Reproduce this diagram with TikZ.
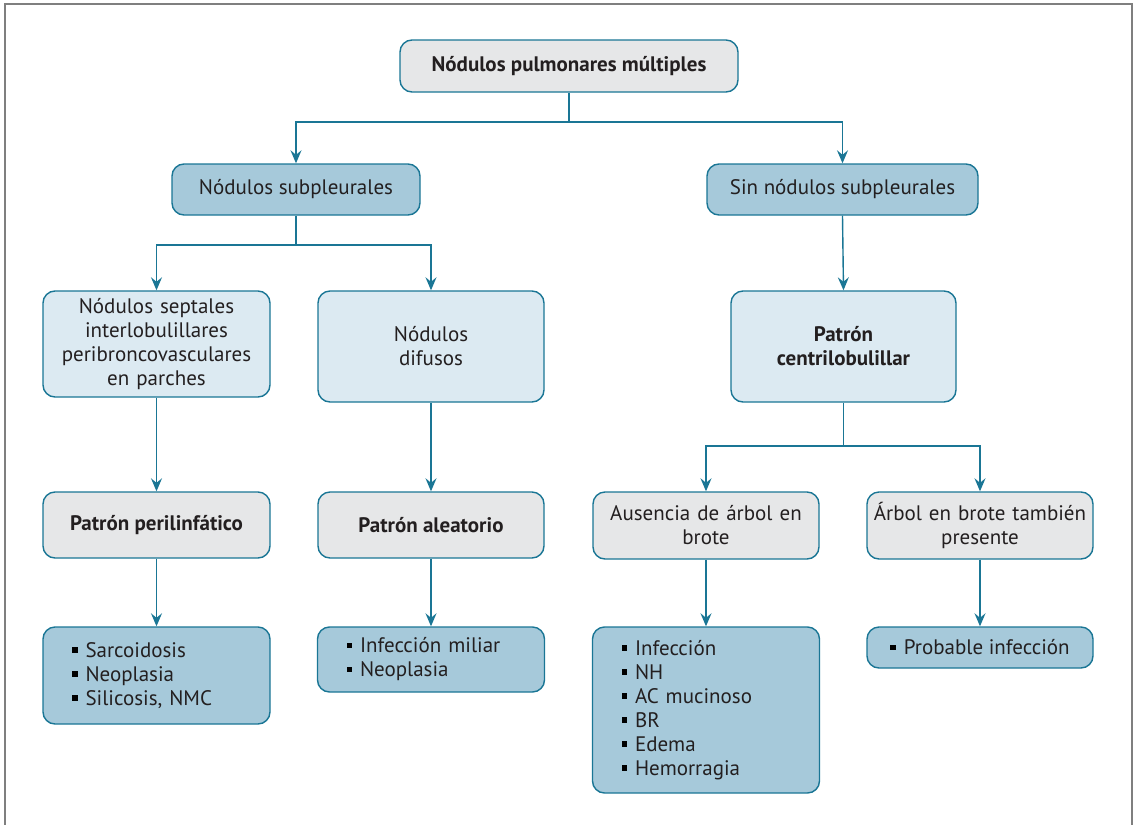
\documentclass[tikz,border=0pt]{standalone}
\usepackage{fontspec}
\setmainfont{PT Sans}
\usetikzlibrary{arrows.meta}
\definecolor{teal}{HTML}{1A7695}
\definecolor{darkfill}{HTML}{A6C9DA}
\definecolor{lightfill}{HTML}{DCEAF2}
\definecolor{grayfill}{HTML}{E6E7E8}
\definecolor{txt}{HTML}{231F20}
\definecolor{frame}{HTML}{7F7F7F}
\newcommand\bul{{\color{black}\rule[4.5pt]{5.5pt}{5.5pt}}\hspace{8pt}}
\tikzset{
  box/.style={draw=teal, line width=1.4pt, rounded corners=12pt, inner sep=0pt,
    text=txt, font=\fontsize{21}{24}\selectfont, align=center},
  dk/.style={box, fill=darkfill},
  lt/.style={box, fill=lightfill},
  gr/.style={box, fill=grayfill},
  conn/.style={draw=teal, line width=1.4pt},
  arr/.style={conn, -{Stealth[length=13pt,width=11pt,inset=4.5pt]}},
  lst/.style={dk, align=left, text width=169pt, inner xsep=29pt, inner ysep=0pt}
}
\begin{document}
\begin{tikzpicture}[x=1pt,y=-1pt]
\useasboundingbox (0,0) rectangle (1136,825);
\draw[frame, line width=2pt] (5,826) -- (5,4) -- (1132,4) -- (1132,826);

\node[gr, minimum width=338pt, minimum height=52pt] (top) at (569,66) {\textbf{Nódulos pulmonares múltiples}};
\node[dk, minimum width=248pt, minimum height=51pt] (sub) at (296,189.5) {Nódulos subpleurales};
\node[dk, minimum width=271pt, minimum height=51pt] (sin) at (842.5,189.5) {Sin nódulos subpleurales};

\node[lt, minimum width=227pt, minimum height=106pt, text width=224pt] (sept) at (156.5,344) {Nódulos septales\\interlobulillares\\peribroncovasculares\\en parches};
\node[lt, minimum width=226pt, minimum height=111pt, text width=220pt] (dif) at (431,346.5) {Nódulos\\difusos};
\node[lt, minimum width=225pt, minimum height=111pt, text width=220pt] (cen) at (843.5,346.5) {\textbf{Patrón}\\\textbf{centrilobulillar}};

\node[gr, minimum width=227pt, minimum height=66pt] (peri) at (156.5,525) {\textbf{Patrón perilinfático}};
\node[gr, minimum width=226pt, minimum height=66pt] (alea) at (431,525) {\textbf{Patrón aleatorio}};
\node[gr, minimum width=226pt, minimum height=67pt, text width=224pt] (aus) at (706,525.5) {Ausencia de árbol en\\brote};
\node[gr, minimum width=226pt, minimum height=67pt, text width=224pt] (arb) at (980,525.5) {Árbol en brote también\\presente};

\node[lst, minimum height=97pt] (l1) at (156.5,675.5) {\bul Sarcoidosis\\\bul Neoplasia\\\bul Silicosis, NMC};
\node[lst, minimum height=65pt] (l2) at (431,659.5) {\bul Infección miliar\\\bul Neoplasia};
\node[lst, minimum height=166pt] (l3) at (706,710) {\bul Infección\\\bul NH\\\bul AC mucinoso\\\bul BR\\\bul Edema\\\bul Hemorragia};
\node[dk, minimum width=226pt, minimum height=41pt] (l4) at (980,647.5) {\bul Probable infección};

\coordinate (j1) at (569,122);
\draw[conn] (top.south) -- (j1);
\draw[arr] (j1) -| (sub.north);
\draw[arr] (j1) -| (sin.north);

\coordinate (j2) at (296,245);
\draw[conn] (sub.south) -- (j2);
\draw[arr] (j2) -| (sept.north);
\draw[arr] (j2) -| (dif.north);

\draw[arr] (sin.south) -- (cen.north);

\draw[arr] (sept.south) -- (peri.north);
\draw[arr] (dif.south) -- (alea.north);

\coordinate (j3) at (843.5,446);
\draw[conn] (cen.south) -- (j3);
\draw[arr] (j3) -| (aus.north);
\draw[arr] (j3) -| (arb.north);

\draw[arr] (peri.south) -- (l1.north);
\draw[arr] (alea.south) -- (l2.north);
\draw[arr] (aus.south) -- (l3.north);
\draw[arr] (arb.south) -- (l4.north);
\end{tikzpicture}
\end{document}
